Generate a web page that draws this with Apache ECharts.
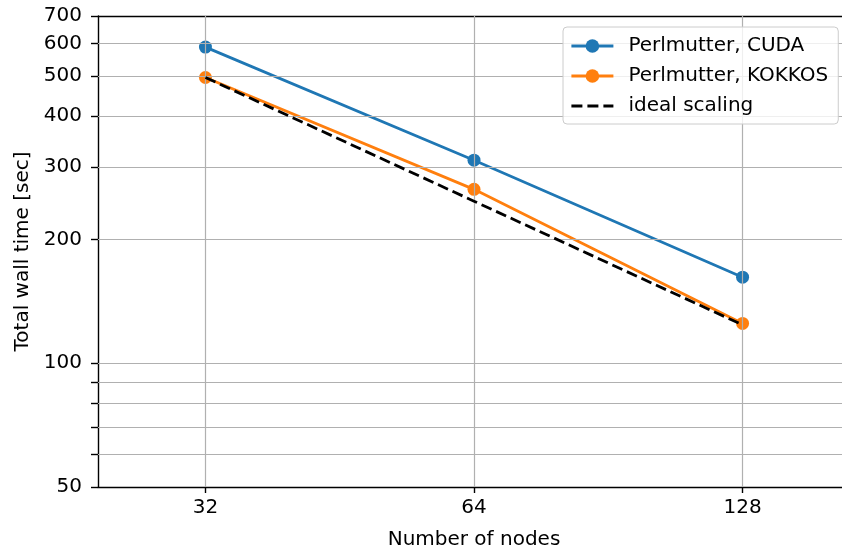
<!DOCTYPE html>
<html>
<head>
<meta charset="utf-8">
<script src="https://cdn.jsdelivr.net/npm/echarts@6/dist/echarts.min.js"></script>
<style>
html,body{margin:0;padding:0;background:#fff;}
#chart{width:842px;height:548px;}
</style>
</head>
<body>
<div id="chart"></div>
<script>
const nodes = [32, 64, 128];
const cudaTimes = [588, 312, 162];
const kokkosTimes = [496, 265, 125];
const idealTimes = [496, 248, 124];
const yTickLabels = [50, 100, 200, 300, 400, 500, 600, 700];
const yGridValues = [60, 70, 80, 90, 100, 200, 300, 400, 500, 600];
const yTickValues = [50, 60, 70, 80, 90, 100, 200, 300, 400, 500, 600, 700];
const seriesNames = ['Perlmutter, CUDA', 'Perlmutter, KOKKOS', 'ideal scaling'];

const FONT = 'DejaVu Sans';
const FS = 20;
const chart = echarts.init(document.getElementById('chart'), null, {renderer: 'canvas'});

function pairs(xs, ys) { return xs.map((x, i) => [x, ys[i]]); }

const gridStyle = {color: '#b0b0b0', width: 1.2, type: 'solid'};
const LW = 2.8;
const C1 = '#1f77b4', C2 = '#ff7f0e', C3 = '#000000';

chart.setOption({
  animation: false,
  backgroundColor: '#ffffff',
  textStyle: {fontFamily: FONT},
  grid: {left: 98, top: 16, right: -8, bottom: 61, containLabel: false, outerBoundsMode: 'none', show: false},
  xAxis: [{
    type: 'log', logBase: 2, min: 24.25, max: 168.9,
    name: 'Number of nodes', nameLocation: 'middle', nameGap: 43,
    nameTextStyle: {fontFamily: FONT, fontSize: FS, color: '#000'},
    axisLine: {show: true, onZero: false, lineStyle: {color: '#000', width: 1.4}},
    axisTick: {show: true, length: 6, inside: false, customValues: nodes, lineStyle: {color: '#000', width: 1.4}},
    axisLabel: {show: true, customValues: nodes, fontFamily: FONT, fontSize: FS, color: '#000', margin: 11, formatter: v => String(Math.round(v))},
    splitLine: {show: false}, minorTick: {show: false}, minorSplitLine: {show: false}
  }, {
    type: 'log', logBase: 2, min: 24.25, max: 168.9, position: 'top',
    axisLine: {show: true, onZero: false, lineStyle: {color: '#000', width: 1.4}},
    axisTick: {show: false}, axisLabel: {show: false}, splitLine: {show: false}
  }],
  yAxis: {
    type: 'log', logBase: 10, min: 50, max: 700,
    name: 'Total wall time [sec]', nameLocation: 'middle', nameGap: 64, nameRotate: 90,
    nameTextStyle: {fontFamily: FONT, fontSize: FS, color: '#000'},
    axisLine: {show: true, onZero: false, lineStyle: {color: '#000', width: 1.4}},
    axisTick: {show: true, length: 7, inside: false, customValues: yTickValues, lineStyle: {color: '#000', width: 1.4}},
    axisLabel: {show: true, customValues: yTickLabels, fontFamily: FONT, fontSize: FS, color: '#000', margin: 16, formatter: v => String(Math.round(v))},
    splitLine: {show: false}, minorTick: {show: false}, minorSplitLine: {show: false}
  },
  legend: {
    z: 20,
    data: [
      {name: seriesNames[0], lineStyle: {color: C1, width: LW}, itemStyle: {color: C1}},
      {name: seriesNames[1], lineStyle: {color: C2, width: LW}, itemStyle: {color: C2}},
      {name: seriesNames[2], lineStyle: {color: C3, width: LW, type: [11, 5]}, itemStyle: {opacity: 0}}
    ],
    orient: 'vertical',
    left: 563, top: 27,
    padding: [9, 10, 8, 7],
    itemGap: 10,
    itemWidth: 42, itemHeight: 17,
    backgroundColor: 'rgba(255,255,255,0.8)',
    borderColor: '#cccccc', borderWidth: 1, borderRadius: 4,
    textStyle: {fontFamily: FONT, fontSize: FS, lineHeight: 20, color: '#000', padding: [0, 0, 0, 10]}
  },
  series: [{
    name: 'grid', type: 'line', data: [[32, 100]], symbol: 'none', silent: true,
    lineStyle: {width: 0}, z: 0,
    markLine: {
      silent: true, symbol: ['none', 'none'], label: {show: false},
      lineStyle: gridStyle, animation: false,
      data: yGridValues.map(v => ({yAxis: v})).concat(nodes.map(v => ({xAxis: v})))
    }
  }, {
    name: seriesNames[0], type: 'line', data: pairs(nodes, cudaTimes),
    symbol: 'circle', symbolSize: 13, showSymbol: true,
    lineStyle: {color: C1, width: LW}, itemStyle: {color: C1}, z: 3
  }, {
    name: seriesNames[1], type: 'line', data: pairs(nodes, kokkosTimes),
    symbol: 'circle', symbolSize: 13, showSymbol: true,
    lineStyle: {color: C2, width: LW}, itemStyle: {color: C2}, z: 4
  }, {
    name: seriesNames[2], type: 'line', data: pairs(nodes, idealTimes),
    symbol: 'none',
    lineStyle: {color: C3, width: LW, type: [11, 5]}, itemStyle: {color: C3}, z: 5
  }]
});
</script>
</body>
</html>
